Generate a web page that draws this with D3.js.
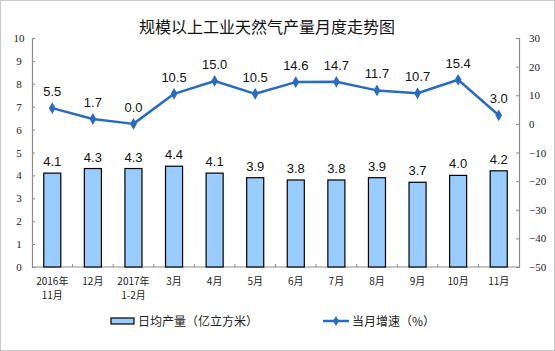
<!DOCTYPE html>
<html>
<head>
<meta charset="utf-8">
<script src="https://cdn.jsdelivr.net/npm/d3@7"></script>
<style>
  body { margin: 0; background: #fff; }
  svg { display: block; }
</style>
</head>
<body>
<div id="chart"></div>
<script>
const categories = [
  ["2016年", "11月"], ["12月"], ["2017年", "1-2月"], ["3月"], ["4月"], ["5月"],
  ["6月"], ["7月"], ["8月"], ["9月"], ["10月"], ["11月"]
];
const dailyOutput = [4.1, 4.3, 4.3, 4.4, 4.1, 3.9, 3.8, 3.8, 3.9, 3.7, 4.0, 4.2];
const monthlyGrowth = [5.5, 1.7, 0.0, 10.5, 15.0, 10.5, 14.6, 14.7, 11.7, 10.7, 15.4, 3.0];
const leftTicks = [0, 1, 2, 3, 4, 5, 6, 7, 8, 9, 10];
const rightTicks = [-50, -40, -30, -20, -10, 0, 10, 20, 30];

const width = 555, height = 351;
const margin = { top: 38, right: 36, bottom: 84, left: 32 };
const axisColor = "#8c8c8c";
const lineColor = "#2a6bc2";
const cjk = "'Noto Sans CJK SC', sans-serif";

const svg = d3.select("#chart").append("svg")
  .attr("width", width)
  .attr("height", height);

// outer frame
svg.append("rect")
  .attr("x", 0.5).attr("y", 0.5)
  .attr("width", width - 1).attr("height", height - 1)
  .attr("fill", "none").attr("stroke", "#c8c8c8");

const x = d3.scaleBand()
  .domain(d3.range(categories.length))
  .range([margin.left, width - margin.right])
  .paddingInner(0.58).paddingOuter(0.29);

const yL = d3.scaleLinear().domain([0, 10]).range([height - margin.bottom, margin.top]);
const yR = d3.scaleLinear().domain([-50, 30]).range([height - margin.bottom, margin.top]);

svg.append("text")
  .attr("x", 267).attr("y", 33)
  .attr("text-anchor", "middle")
  .attr("font-family", cjk).attr("font-size", 16)
  .attr("fill", "#111")
  .text("规模以上工业天然气产量月度走势图");

// axes
const leftAxis = svg.append("g")
  .attr("transform", `translate(${margin.left},0)`)
  .call(d3.axisLeft(yL).tickValues(leftTicks).tickSize(-3).tickPadding(13));
const rightAxis = svg.append("g")
  .attr("transform", `translate(${width - margin.right},0)`)
  .call(d3.axisRight(yR).tickValues(rightTicks).tickSize(-3).tickPadding(10));

[leftAxis, rightAxis].forEach(g => {
  g.select(".domain").attr("stroke", axisColor).attr("stroke-width", 1.2);
  g.selectAll(".tick line").attr("stroke", axisColor);
  g.selectAll(".tick text")
    .attr("font-family", "'Liberation Serif', serif")
    .attr("font-size", 11).attr("fill", "#222");
});
leftAxis.selectAll(".tick text").attr("text-anchor", "middle");
rightAxis.selectAll(".tick text").attr("x", 10).attr("text-anchor", "start");

// bottom axis line and separators
const base = yL(0);
svg.append("line")
  .attr("x1", margin.left).attr("x2", width - margin.right)
  .attr("y1", base).attr("y2", base)
  .attr("stroke", axisColor).attr("stroke-width", 1.2);
const step = x.step();
svg.append("g").selectAll("line")
  .data(d3.range(1, categories.length))
  .join("line")
  .attr("x1", i => x(i) - step * x.paddingInner() / 2)
  .attr("x2", i => x(i) - step * x.paddingInner() / 2)
  .attr("y1", base).attr("y2", base - 3)
  .attr("stroke", axisColor);

// category labels, one text per line
const catLines = categories.flatMap((lines, i) => lines.map((s, j) => ({ i, j, s })));
svg.append("g").selectAll("text")
  .data(catLines)
  .join("text")
  .attr("x", d => x(d.i) + x.bandwidth() / 2)
  .attr("y", d => 285 + d.j * 14)
  .attr("text-anchor", "middle")
  .attr("font-family", cjk).attr("font-size", 10)
  .attr("fill", "#222")
  .text(d => d.s);

// bars
svg.append("g").selectAll("rect")
  .data(dailyOutput)
  .join("rect")
  .attr("x", (d, i) => x(i))
  .attr("y", d => yL(d))
  .attr("width", x.bandwidth())
  .attr("height", d => base - yL(d))
  .attr("fill", "#99ccff")
  .attr("stroke", "#000").attr("stroke-width", 1.2);

svg.append("g").selectAll("text")
  .data(dailyOutput)
  .join("text")
  .attr("x", (d, i) => x(i) + x.bandwidth() / 2)
  .attr("y", d => yL(d) - 7)
  .attr("text-anchor", "middle")
  .attr("font-family", "'Liberation Sans', Arial, sans-serif")
  .attr("font-size", 13).attr("fill", "#111")
  .text(d => d.toFixed(1));

// growth line
const cx = i => x(i) + x.bandwidth() / 2;
const line = d3.line().x((d, i) => cx(i)).y(d => yR(d));
svg.append("path")
  .datum(monthlyGrowth)
  .attr("d", line)
  .attr("fill", "none")
  .attr("stroke", lineColor).attr("stroke-width", 2.5)
  .attr("stroke-linejoin", "round");

svg.append("g").selectAll("path")
  .data(monthlyGrowth)
  .join("path")
  .attr("d", d3.symbol(d3.symbolDiamond, 40))
  .attr("transform", (d, i) => `translate(${cx(i)},${yR(d)})`)
  .attr("fill", lineColor);

svg.append("g").selectAll("text")
  .data(monthlyGrowth)
  .join("text")
  .attr("x", (d, i) => cx(i))
  .attr("y", d => yR(d) - 12)
  .attr("text-anchor", "middle")
  .attr("font-family", "'Liberation Sans', Arial, sans-serif")
  .attr("font-size", 13).attr("fill", "#111")
  .text(d => d.toFixed(1));

// legend
const legY = 321;
svg.append("rect")
  .attr("x", 111).attr("y", legY - 3)
  .attr("width", 23).attr("height", 6)
  .attr("fill", "#99ccff").attr("stroke", "#000").attr("stroke-width", 1.2);
svg.append("text")
  .attr("x", 138).attr("y", legY + 4.5)
  .attr("font-family", cjk).attr("font-size", 12).attr("fill", "#222")
  .text("日均产量（亿立方米）");

svg.append("line")
  .attr("x1", 323).attr("x2", 349)
  .attr("y1", legY).attr("y2", legY)
  .attr("stroke", lineColor).attr("stroke-width", 2.5);
svg.append("path")
  .attr("d", d3.symbol(d3.symbolDiamond, 30))
  .attr("transform", `translate(336,${legY})`)
  .attr("fill", lineColor);
svg.append("text")
  .attr("x", 352).attr("y", legY + 4.5)
  .attr("font-family", cjk).attr("font-size", 12).attr("fill", "#222")
  .text("当月增速（%）");
</script>
</body>
</html>
